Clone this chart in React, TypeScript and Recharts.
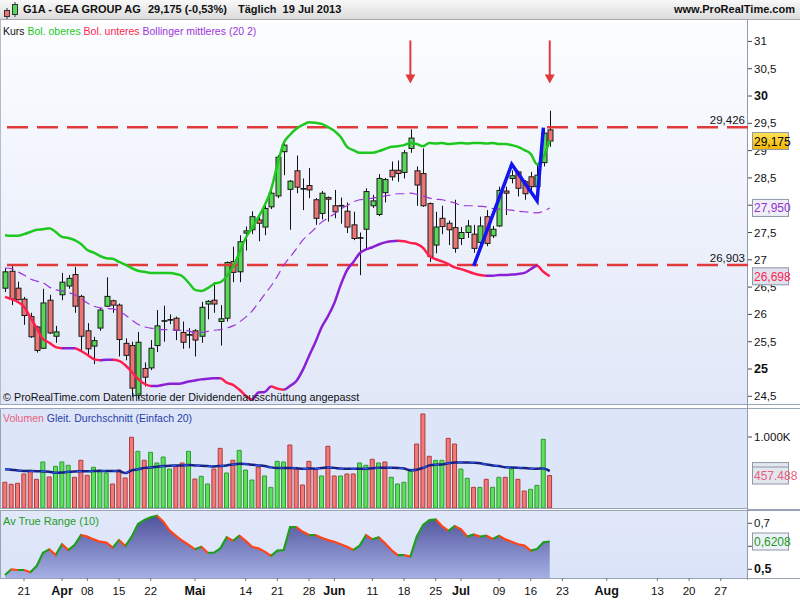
import React from "react";
import { Area, Bar, Cell, ComposedChart, Line, ReferenceLine, Scatter, XAxis, YAxis } from "recharts";

const FONT = "'Liberation Sans', Arial, sans-serif";

// daily candles, 18 Mar 2013 .. 19 Jul 2013 (index 0..86)
const opens = [
  26.48, 26.79, 26.48, 26.28, 25.96, 25.77, 25.38, 26.26, 25.6, 26.36,
  26.52, 26.73, 26.33, 25.7, 25.42, 25.75, 26.15, 26.25, 26.17, 25.47,
  25.43, 24.52, 25.01, 25.02, 25.43, 25.87, 25.9, 25.93, 25.67, 25.63,
  25.7, 25.6, 26.19, 26.26, 25.87, 25.93, 26.97, 26.78, 27.49, 27.55,
  27.73, 27.6, 27.97, 28.17, 28.98, 28.29, 28.63, 28.3, 28.36, 28.1,
  27.85, 28.14, 27.99, 27.99, 27.89, 27.64, 27.4, 27.56, 27.99, 27.83,
  28.23, 28.64, 28.64, 28.6, 29.04, 28.63, 28.58, 28.03, 27.27, 27.76,
  27.67, 27.59, 27.39, 27.5, 27.47, 27.32, 27.79, 27.44, 27.62, 28.26,
  28.49, 28.61, 28.43, 28.52, 28.34, 28.78, 29.38
];
const highs = [
  26.85, 26.9, 26.6, 26.32, 26.03, 25.79, 26.47, 26.36, 25.79, 26.76,
  26.72, 26.87, 26.36, 25.84, 25.59, 26.12, 26.68, 26.27, 26.2, 25.56,
  25.5, 25.68, 25.12, 25.53, 26.08, 26.16, 26.0, 25.96, 25.87, 25.75,
  25.73, 26.23, 26.26, 26.59, 26.17, 26.97, 27.24, 27.45, 27.61, 27.89,
  27.81, 28.03, 28.31, 28.92, 29.16, 28.46, 28.91, 28.49, 28.68, 28.13,
  28.26, 28.16, 28.28, 28.14, 28.05, 27.88, 27.5, 28.31, 28.19, 28.57,
  28.5, 28.8, 28.82, 29.01, 29.39, 28.71, 29.04, 28.05, 27.88, 27.99,
  27.72, 28.1, 27.6, 27.73, 27.64, 27.79, 27.91, 27.62, 28.34, 28.34,
  28.64, 28.63, 28.46, 28.61, 28.74, 29.41, 29.73
];
const lows = [
  26.41, 26.17, 26.26, 25.81, 25.57, 25.3, 25.37, 25.64, 25.48, 26.26,
  26.47, 26.03, 25.32, 25.26, 25.09, 25.7, 26.14, 26.03, 25.23, 25.16,
  24.49, 24.45, 24.68, 24.98, 25.31, 25.5, 25.82, 25.53, 25.37, 25.38,
  25.23, 25.48, 25.91, 26.03, 25.43, 25.87, 26.59, 26.59, 27.17, 27.47,
  27.34, 27.45, 27.93, 28.13, 28.55, 27.55, 28.22, 27.91, 28.13, 27.64,
  27.74, 27.7, 27.76, 27.66, 27.49, 27.36, 26.72, 27.21, 27.95, 27.8,
  28.05, 28.45, 28.43, 28.49, 28.96, 27.99, 27.97, 26.96, 27.12, 27.47,
  27.27, 27.13, 27.27, 27.4, 27.13, 27.24, 27.25, 27.4, 27.6, 27.82,
  28.4, 28.16, 28.1, 28.2, 28.3, 28.71, 29.07
];
const closes = [
  26.78, 26.28, 26.27, 25.98, 25.59, 25.34, 26.21, 25.66, 25.68, 26.59,
  26.66, 26.15, 25.6, 25.37, 25.52, 26.08, 26.33, 26.17, 25.54, 25.25,
  24.65, 25.49, 24.85, 25.38, 25.79, 25.89, 25.9, 25.71, 25.49, 25.62,
  25.53, 26.13, 26.24, 26.19, 25.92, 26.95, 26.77, 27.33, 27.53, 27.79,
  27.67, 27.94, 28.22, 28.88, 29.1, 28.44, 28.33, 28.3, 28.28, 27.76,
  28.22, 28.11, 27.88, 27.99, 27.6, 27.39, 27.4, 28.25, 28.08, 28.49,
  28.47, 28.52, 28.58, 28.96, 29.23, 28.37, 27.99, 27.06, 27.6, 27.61,
  27.55, 27.21, 27.5, 27.62, 27.21, 27.62, 27.3, 27.56, 28.27, 28.22,
  28.54, 28.31, 28.21, 28.34, 28.55, 29.32, 29.175
];

// Bollinger (20 2)
const bolUpper = [
  27.45, 27.44, 27.44, 27.47, 27.51, 27.55, 27.56, 27.58, 27.51, 27.42,
  27.4, 27.36, 27.29, 27.18, 27.13, 27.07, 27.03, 27.02, 26.96, 26.91,
  26.85, 26.8, 26.78, 26.76, 26.76, 26.76, 26.76, 26.74, 26.7, 26.58,
  26.45, 26.43, 26.48, 26.56, 26.59, 26.7, 26.87, 27.13, 27.4, 27.58,
  27.78, 28.0, 28.28, 28.74, 29.14, 29.29, 29.4, 29.47, 29.52, 29.51,
  29.49, 29.43, 29.36, 29.25, 29.07, 29.01, 28.96, 28.96, 28.96, 28.99,
  29.03, 29.07, 29.08, 29.1, 29.14, 29.12, 29.08, 29.14, 29.13, 29.14,
  29.12, 29.13, 29.14, 29.13, 29.14, 29.14, 29.13, 29.14, 29.12, 29.12,
  29.1, 29.07, 29.01, 28.94, 28.75, 28.88, 29.19
];
const bolMiddle = [
  26.85, 26.84, 26.78, 26.72, 26.65, 26.61, 26.58, 26.5, 26.45, 26.43,
  26.4, 26.36, 26.29, 26.21, 26.15, 26.12, 26.11, 26.1, 26.06, 25.99,
  25.9, 25.82, 25.77, 25.75, 25.73, 25.72, 25.72, 25.71, 25.71, 25.7,
  25.66, 25.67, 25.69, 25.71, 25.72, 25.75, 25.79, 25.86, 25.95, 26.06,
  26.21, 26.37, 26.52, 26.7, 26.9, 27.05, 27.2, 27.36, 27.47, 27.58,
  27.69, 27.77, 27.84, 27.93, 27.99, 28.06, 28.1, 28.11, 28.13, 28.15,
  28.17, 28.19, 28.21, 28.21, 28.22, 28.2, 28.17, 28.13, 28.11, 28.1,
  28.07, 28.04, 28.0, 27.99, 27.99, 27.98, 27.97, 27.94, 27.93, 27.92,
  27.91, 27.89, 27.88, 27.87, 27.86, 27.89, 27.95
];
const bolLower = [
  26.32, 26.28, 26.23, 26.14, 25.95, 25.75, 25.55, 25.48, 25.4, 25.38,
  25.38, 25.38, 25.33, 25.26, 25.18, 25.16, 25.17, 25.17, 25.15, 25.07,
  24.95, 24.82, 24.73, 24.69, 24.69, 24.71, 24.73, 24.73, 24.74, 24.77,
  24.79, 24.81, 24.82, 24.83, 24.83, 24.75, 24.71, 24.62, 24.51, 24.44,
  24.57, 24.58, 24.68, 24.64, 24.62, 24.69, 24.78, 24.98, 25.24, 25.49,
  25.77, 25.97, 26.21, 26.54, 26.81, 26.96, 27.12, 27.19, 27.23, 27.28,
  27.32, 27.34, 27.35, 27.34, 27.31, 27.29, 27.22, 27.07, 27.01, 26.97,
  26.92, 26.86, 26.83, 26.79, 26.75, 26.72, 26.71, 26.71, 26.72, 26.72,
  26.73, 26.74, 26.76, 26.83, 26.89, 26.78, 26.698
];

// volume in thousands of shares, with 20-day simple average
const volumes = [
  362, 334, 348, 479, 531, 404, 648, 437, 587, 648,
  601, 432, 672, 460, 573, 535, 493, 338, 535, 423,
  996, 798, 672, 784, 634, 718, 549, 582, 634, 798,
  408, 446, 338, 549, 840, 493, 672, 812, 535, 394,
  577, 451, 291, 657, 648, 887, 549, 324, 657, 549,
  451, 869, 451, 451, 479, 479, 634, 601, 686, 634,
  648, 432, 338, 362, 521, 901, 1324, 728, 671, 671,
  981, 901, 549, 418, 291, 291, 404, 291, 432, 432,
  549, 404, 239, 263, 319, 967, 457.488
];
const volumeAvg = [
  547, 540, 528, 522, 520, 518, 515, 512, 495, 500,
  510, 515, 517, 518, 520, 522, 522, 521, 520, 493,
  530, 545, 565, 570, 580, 590, 596, 598, 600, 606,
  600, 595, 590, 586, 592, 600, 612, 624, 620, 610,
  600, 590, 572, 563, 563, 563, 560, 552, 556, 554,
  562, 572, 565, 556, 552, 552, 552, 554, 558, 566,
  568, 566, 563, 555, 533, 540, 565, 600, 610, 612,
  630, 642, 642, 642, 638, 630, 612, 600, 590, 574,
  570, 566, 562, 556, 553, 556, 520
];

// Average True Range (10)
const atrValues = [
  0.475, 0.5, 0.497, 0.497, 0.487, 0.514, 0.572, 0.587, 0.562, 0.609,
  0.584, 0.606, 0.649, 0.642, 0.63, 0.62, 0.616, 0.594, 0.627, 0.601,
  0.642, 0.697, 0.714, 0.726, 0.733, 0.707, 0.668, 0.645, 0.624, 0.606,
  0.587, 0.598, 0.572, 0.572, 0.591, 0.639, 0.624, 0.646, 0.624, 0.598,
  0.591, 0.577, 0.558, 0.581, 0.584, 0.683, 0.683, 0.663, 0.649, 0.649,
  0.637, 0.627, 0.62, 0.609, 0.598, 0.584, 0.603, 0.649, 0.63, 0.639,
  0.613, 0.584, 0.562, 0.562, 0.555, 0.642, 0.693, 0.714, 0.717, 0.688,
  0.667, 0.688, 0.674, 0.642, 0.652, 0.642, 0.646, 0.632, 0.646, 0.63,
  0.62, 0.609, 0.603, 0.581, 0.588, 0.617, 0.6208
];

// date axis (trading-day index -> label)
const tickIdx = [3, 9, 13, 18, 23, 30, 38, 43, 48, 52, 58, 63, 68, 72, 78, 83, 88, 95, 103, 108, 113];
const tickText = ["21", "Apr", "08", "15", "22", "Mai", "14", "21", "28", "Jun", "11", "18", "25", "Jul", "09", "16", "23", "Aug", "13", "20", "27"];

// annotations drawn on the chart
const levels = [29.426, 26.903];
const trendIdx = [74, 80, 84, 85];
const trendVal = [26.89, 28.75, 28.08, 29.42];
const arrowIdx = [64, 86];
const arrowTip = [30.23, 30.23];

const priceTicks = [24.5, 25, 25.5, 26, 26.5, 27, 27.5, 28, 28.5, 29, 29.5, 30, 30.5, 31];

const X_DOMAIN: [number, number] = [-0.79, 117.3];
const last = closes.length - 1;

const rows = closes.map((close, i) => ({
  i,
  open: opens[i],
  high: highs[i],
  low: lows[i],
  close,
  range: [lows[i], highs[i]],
  upper: bolUpper[i],
  middle: bolMiddle[i],
  lower: bolLower[i],
  vol: volumes[i],
  volAvg: volumeAvg[i],
  atr: atrValues[i],
  trend: trendIdx.includes(i) ? trendVal[trendIdx.indexOf(i)] : null
}));

const arrows = arrowIdx.map((i, k) => ({ i, tip: arrowTip[k] }));

const comma = (v: number, d: number) => v.toFixed(d).replace(".", ",");

const priceTags = [
  { value: closes[last], text: comma(closes[last], 3), color: "#000", bg: "url(#tagGold)" },
  { value: bolMiddle[last], text: comma(bolMiddle[last], 3), color: "#9a2fd2", bg: "#eef0f8" },
  { value: bolLower[last], text: comma(bolLower[last], 3), color: "#ff1f55", bg: "#dfe2ec" }
];
const volTags = [
  { value: volumeAvg[last], text: "", color: "#2233aa", bg: "#e3e7f1" },
  { value: volumes[last], text: volumes[last].toFixed(3), color: "#e8607a", bg: "#e3e6ef" }
];
const atrTags = [{ value: atrValues[last], text: comma(atrValues[last], 4), color: "#1a9a1a", bg: "#eef1f8" }];

function segmentStops(vals: number[], up: string, down: string) {
  const n = vals.length - 1;
  const out: React.ReactElement[] = [];
  for (let j = 0; j < n; j++) {
    const c = vals[j + 1] >= vals[j] ? up : down;
    out.push(<stop key={`a${j}`} offset={j / n} stopColor={c} />);
    out.push(<stop key={`b${j}`} offset={(j + 1) / n} stopColor={c} />);
  }
  return out;
}

function Candle(props: any) {
  const { x, y, width, height, payload } = props;
  if (!payload) return null;
  const { open, close, high, low } = payload;
  const top = Math.min(y, y + height);
  const h = Math.abs(height);
  const k = h / (high - low);
  const cx = Math.round(x + width / 2) + 0.5;
  const bodyTop = top + (high - Math.max(open, close)) * k;
  const bodyBot = top + (high - Math.min(open, close)) * k;
  const doji = Math.abs(close - open) < 0.025;
  return (
    <g>
      <line x1={cx} x2={cx} y1={top} y2={top + h} stroke="#111" strokeWidth={1} />
      {doji ? (
        <line x1={cx - 3} x2={cx + 3} y1={(bodyTop + bodyBot) / 2} y2={(bodyTop + bodyBot) / 2} stroke="#111" strokeWidth={1.6} />
      ) : (
        <rect
          x={cx - 2.5}
          y={bodyTop}
          width={5}
          height={Math.max(bodyBot - bodyTop, 1)}
          fill={close > open ? "#57d657" : "#ec7474"}
          stroke="#1a1a1a"
          strokeWidth={1}
        />
      )}
    </g>
  );
}

function Arrow(props: any) {
  const { cx, cy } = props;
  return (
    <g>
      <line x1={cx} x2={cx} y1={cy - 43} y2={cy - 8} stroke="#e23a3a" strokeWidth={2} />
      <path d={`M${cx - 5},${cy - 9} L${cx + 5},${cy - 9} L${cx},${cy} Z`} fill="#e23a3a" />
    </g>
  );
}

function TagBox({ y, text, color, bg }: { y: number; text: string; color: string; bg: string }) {
  return (
    <g>
      <rect x={752.5} y={y - 8.5} width={36} height={17} fill={bg} stroke="#8e98a8" strokeWidth={1} />
      {text && (
        <text x={754} y={y} dy={4.5} fontSize={12} fill={color} fontFamily={FONT}>
          {text}
        </text>
      )}
    </g>
  );
}

function makeTick(tags: any[], label: (v: number) => string, bold: (v: number) => boolean, hidden: (v: number) => boolean) {
  return (props: any) => {
    const { y, payload } = props;
    const v = payload.value;
    const tag = tags.find((t) => t.value === v);
    if (tag) return <TagBox y={y} text={tag.text} color={tag.color} bg={tag.bg} />;
    const b = bold(v);
    return (
      <g>
        <line x1={748} x2={752} y1={y} y2={y} stroke="#444" />
        {!hidden(v) && (
          <text x={754} y={y} dy={4} fontSize={b ? 12.5 : 11.5} fontWeight={b ? 700 : 400} fill="#111" fontFamily={FONT}>
            {label(v)}
          </text>
        )}
      </g>
    );
  };
}

const PriceTick = makeTick(
  priceTags,
  (v) => (Number.isInteger(v) ? String(v) : comma(v, 1)),
  (v) => v === 25 || v === 30,
  (v) => v === 28
);
const VolTick = makeTick(volTags, () => "1.000K", () => false, () => false);
const AtrTick = makeTick(atrTags, (v) => comma(v, 1), (v) => v === 0.5, (v) => v === 0.6);

function DateTick(props: any) {
  const { x, payload } = props;
  const label = tickText[tickIdx.indexOf(payload.value)];
  const month = /^[A-Z]/.test(label);
  return (
    <text x={x} y={84} textAnchor="middle" fontSize={month ? 12.5 : 11.5} fontWeight={month ? 700 : 400} fill="#111" fontFamily={FONT}>
      {label}
    </text>
  );
}

const levelLabel = (text: string) => (props: any) => {
  const vb = props.viewBox;
  return (
    <text x={vb.x + vb.width - 3} y={vb.y - 3} textAnchor="end" fontSize={11.5} fill="#111" fontFamily={FONT}>
      {text}
    </text>
  );
};

const abs = (left: number, top: number, w: number, h: number, extra: React.CSSProperties = {}): React.CSSProperties => ({
  position: "absolute",
  left,
  top,
  width: w,
  height: h,
  boxSizing: "border-box",
  ...extra
});

function Header() {
  const t: React.CSSProperties = { position: "absolute", top: 3, fontSize: 11, fontWeight: 700, whiteSpace: "pre", color: "#111" };
  return (
    <div style={abs(0, 0, 800, 20, { background: "linear-gradient(#f8f8f8, #dcdcdc)", borderBottom: "1px solid #a8a8a8" })}>
      <svg width={18} height={20} style={{ position: "absolute", left: 2, top: 0 }}>
        <line x1={5} x2={5} y1={8} y2={19} stroke="#333" />
        <rect x={2.5} y={10.5} width={5} height={6} fill="#ec7474" stroke="#333" />
        <line x1={13} x2={13} y1={2} y2={17} stroke="#333" />
        <rect x={10.5} y={4.5} width={5} height={10} fill="#57d657" stroke="#333" />
      </svg>
      <span style={{ ...t, left: 23 }}>G1A - GEA GROUP AG</span>
      <span style={{ ...t, left: 148 }}>29,175 (-0,53%)</span>
      <span style={{ ...t, left: 238 }}>Täglich  19 Jul 2013</span>
      <span style={{ ...t, right: 5 }}>www.ProRealTime.com</span>
    </div>
  );
}

const hiddenX = <XAxis type="number" dataKey="i" domain={X_DOMAIN} allowDataOverflow hide />;

export default function App() {
  const txt: React.CSSProperties = { position: "absolute", fontSize: 10.5, whiteSpace: "pre", lineHeight: "12px" };
  return (
    <div style={{ position: "absolute", left: 0, top: 0, width: 800, height: 600, background: "#fff", fontFamily: FONT, overflow: "hidden" }}>
      <Header />
      {/* panel backgrounds */}
      <div style={abs(0, 20, 748, 385, { background: "linear-gradient(#fcfdff, #e1e7f8)", borderLeft: "1px solid #b4bccb", borderBottom: "1px solid #98a3b5" })} />
      <div style={abs(0, 408, 748, 101, { background: "#dde5f9", border: "1px solid #98a3b5", borderRight: "none" })} />
      <div style={abs(0, 510, 748, 69, { background: "linear-gradient(#e1e8fa, #dbe3f8)", border: "1px solid #98a3b5", borderRight: "none" })} />
      <div style={abs(747, 20, 1, 560, { background: "#8f9bb0" })} />
      <div style={abs(748, 404, 52, 1, { background: "#98a3b5" })} />
      <div style={abs(748, 408, 52, 1, { background: "#98a3b5" })} />
      <div style={abs(748, 509, 52, 1, { background: "#98a3b5" })} />
      <div style={abs(748, 510, 52, 1, { background: "#98a3b5" })} />
      <div style={abs(0, 578, 800, 1, { background: "#98a3b5" })} />

      <div style={{ position: "absolute", left: 0, top: 21 }}>
        <ComposedChart width={800} height={383} data={rows} margin={{ top: 0, right: 0, bottom: 0, left: 0 }}>
          <defs>
            <linearGradient id="lowerStroke" x1="0" y1="0" x2="1" y2="0">
              {segmentStops(bolLower, "#8a1fd6", "#ff1f4f")}
            </linearGradient>
            <linearGradient id="tagGold" x1="0" y1="0" x2="0" y2="1">
              <stop offset="0" stopColor="#ffe45a" />
              <stop offset="1" stopColor="#f4b400" />
            </linearGradient>
          </defs>
          {hiddenX}
          <YAxis
            yAxisId="p"
            orientation="right"
            width={52}
            type="number"
            domain={[24.359, 31.374]}
            allowDataOverflow
            ticks={[...priceTicks, ...priceTags.map((t) => t.value)]}
            interval={0}
            tick={PriceTick}
            tickLine={false}
            axisLine={false}
            tickSize={4}
            tickMargin={2}
          />
          {levels.map((v) => (
            <ReferenceLine
              key={v}
              yAxisId="p"
              y={v}
              stroke="#e23a3a"
              strokeWidth={2.5}
              strokeDasharray="21 9"
              label={levelLabel(comma(v, 3))}
            />
          ))}
          <Line yAxisId="p" dataKey="middle" type="monotone" stroke="#9b35d8" strokeWidth={1.2} strokeDasharray="9 5" dot={false} isAnimationActive={false} />
          <Line yAxisId="p" dataKey="upper" type="monotone" stroke="#1fc81f" strokeWidth={2.5} dot={false} isAnimationActive={false} />
          <Line yAxisId="p" dataKey="lower" type="monotone" stroke="url(#lowerStroke)" strokeWidth={2.5} dot={false} isAnimationActive={false} />
          <Bar yAxisId="p" dataKey="range" barSize={5} shape={Candle} isAnimationActive={false} />
          <Line yAxisId="p" dataKey="trend" type="linear" connectNulls stroke="#1414f0" strokeWidth={3.5} dot={false} isAnimationActive={false} />
          <Scatter yAxisId="p" data={arrows} dataKey="tip" shape={Arrow} isAnimationActive={false} />
        </ComposedChart>
      </div>

      <div style={{ position: "absolute", left: 0, top: 409 }}>
        <ComposedChart width={800} height={99} data={rows} margin={{ top: 0, right: 0, bottom: 0, left: 0 }}>
          {hiddenX}
          <YAxis
            orientation="right"
            width={52}
            type="number"
            domain={[0, 1394]}
            allowDataOverflow
            ticks={[1000, ...volTags.map((t) => t.value)]}
            interval={0}
            tick={VolTick}
            tickLine={false}
            axisLine={false}
            tickSize={4}
            tickMargin={2}
          />
          <Bar dataKey="vol" barSize={4} strokeWidth={1} isAnimationActive={false}>
            {rows.map((r) => {
              const up = r.i > 0 && closes[r.i] >= closes[r.i - 1];
              return <Cell key={r.i} fill={up ? "#5de05d" : "#f07a7a"} stroke={up ? "#2f9a2f" : "#b03a3a"} />;
            })}
          </Bar>
          <Line dataKey="volAvg" type="monotone" stroke="#17237f" strokeWidth={2.5} dot={false} isAnimationActive={false} />
          <Line dataKey="volAvg" type="monotone" stroke="#2d55ff" strokeWidth={1.2} strokeDasharray="5 7" dot={false} isAnimationActive={false} />
        </ComposedChart>
      </div>

      <div style={{ position: "absolute", left: 0, top: 511 }}>
        <ComposedChart width={800} height={89} data={rows} margin={{ top: 0, right: 0, bottom: 0, left: 0 }}>
          <defs>
            <linearGradient id="atrFill" x1="0" y1="0" x2="0" y2="1">
              <stop offset="0" stopColor="#4f529c" />
              <stop offset="1" stopColor="#a6b0e4" />
            </linearGradient>
            <linearGradient id="atrStroke" x1="0" y1="0" x2="1" y2="0">
              {segmentStops(atrValues, "#1f9d1f", "#ff4418")}
            </linearGradient>
          </defs>
          <XAxis
            type="number"
            dataKey="i"
            domain={X_DOMAIN}
            allowDataOverflow
            height={22}
            ticks={tickIdx}
            interval={0}
            tick={DateTick}
            axisLine={false}
            tickLine={{ stroke: "#777" }}
            tickSize={3}
          />
          <YAxis
            orientation="right"
            width={52}
            type="number"
            domain={[0.4622, 0.7535]}
            allowDataOverflow
            ticks={[0.5, 0.6, 0.7, ...atrTags.map((t) => t.value)]}
            interval={0}
            tick={AtrTick}
            tickLine={false}
            axisLine={false}
            tickSize={4}
            tickMargin={2}
          />
          <Area dataKey="atr" type="linear" fill="url(#atrFill)" fillOpacity={1} stroke="none" isAnimationActive={false} />
          <Line dataKey="atr" type="linear" stroke="url(#atrStroke)" strokeWidth={2.2} dot={false} isAnimationActive={false} />
        </ComposedChart>
      </div>

      {/* legends */}
      <div style={{ ...txt, left: 3, top: 25 }}>
        <span style={{ color: "#111" }}>Kurs </span>
        <span style={{ color: "#1fc81f" }}>Bol. oberes </span>
        <span style={{ color: "#ff1f4f" }}>Bol. unteres </span>
        <span style={{ color: "#9b35d8" }}>Bollinger mittleres (20 2)</span>
      </div>
      <div style={{ ...txt, fontSize: 10.8, left: 3, top: 391, color: "#111" }}>© ProRealTime.com Datenhistorie der Dividendenausschüttung angepasst</div>
      <div style={{ ...txt, left: 3, top: 412 }}>
        <span style={{ color: "#e8607a" }}>Volumen </span>
        <span style={{ color: "#2a3ea8" }}>Gleit. Durchschnitt (Einfach 20)</span>
      </div>
      <div style={{ ...txt, fontSize: 11, left: 3, top: 515, color: "#1f9d1f" }}>Av True Range (10)</div>
    </div>
  );
}
